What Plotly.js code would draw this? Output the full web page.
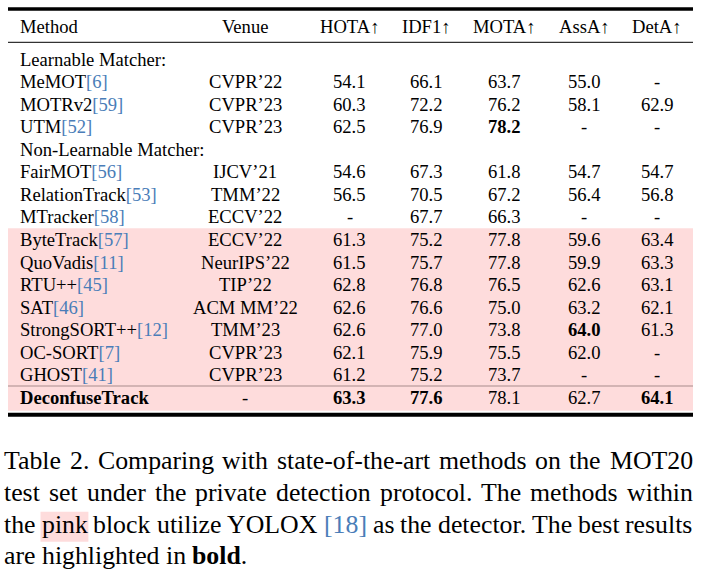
<!DOCTYPE html>
<html><head><meta charset="utf-8">
<script src="https://cdn.plot.ly/plotly-3.0.1.min.js"></script>
<style>html,body{margin:0;padding:0;background:#fff;}#chart{width:705px;height:575px;}</style>
</head><body><div id="chart"></div>
<script>
// ---- data ----
const headers = ["Method", "Venue", "HOTA↑", "IDF1↑", "MOTA↑", "AssA↑", "DetA↑"];
const groupLabels = ["Learnable Matcher:", "Non-Learnable Matcher:"];
const groupStart = [0, 3];           // method index where each group begins
const methods = ["MeMOT", "MOTRv2", "UTM", "FairMOT", "RelationTrack", "MTracker",
  "ByteTrack", "QuoVadis", "RTU++", "SAT", "StrongSORT++", "OC-SORT", "GHOST", "DeconfuseTrack"];
const refs = ["6", "59", "52", "56", "53", "58", "57", "11", "45", "46", "12", "7", "41", ""];
const venues = ["CVPR’22", "CVPR’23", "CVPR’23", "IJCV’21", "TMM’22", "ECCV’22",
  "ECCV’22", "NeurIPS’22", "TIP’22", "ACM MM’22", "TMM’23", "CVPR’23", "CVPR’23", "-"];
const hota = [54.1, 60.3, 62.5, 54.6, 56.5, null, 61.3, 61.5, 62.8, 62.6, 62.6, 62.1, 61.2, 63.3];
const idf1 = [66.1, 72.2, 76.9, 67.3, 70.5, 67.7, 75.2, 75.7, 76.8, 76.6, 77.0, 75.9, 75.2, 77.6];
const mota = [63.7, 76.2, 78.2, 61.8, 67.2, 66.3, 77.8, 77.8, 76.5, 75.0, 73.8, 75.5, 73.7, 78.1];
const assa = [55.0, 58.1, null, 54.7, 56.4, null, 59.6, 59.9, 62.6, 63.2, 64.0, 62.0, null, 62.7];
const deta = [null, 62.9, null, 54.7, 56.8, null, 63.4, 63.3, 63.1, 62.1, 61.3, null, null, 64.1];
const pinkFrom = 6;                  // first method in the pink (YOLOX) block
const oursIndex = 13;                // proposed method (bold name)
const captionLines = [
  "Table 2. Comparing with state-of-the-art methods on the MOT20",
  "test set under the private detection protocol. The methods within",
  "the pink block utilize YOLOX [18] as the detector. The best results",
  "are highlighted in bold."
];

// ---- styling / layout ----
const FONT = "Liberation Serif";
const FS = 18.6, CFS = 25.8;
const BLUE = "#4a7db8", PINK = "#fedcdc";
const colX = [20, 245, 349.5, 426, 504.5, 584, 657];
const metricCols = [hota, idf1, mota, assa, deta];
const L = 8, R = 693;

function rowY(slot) {
  return 59 + slot * 22.42 + (slot >= 8 ? 1.1 : 0) + (slot >= 15 ? 0.5 : 0);
}
const VOFF = 0.5;

const ann = [];
const shapes = [];
function txt(x, y, text, anchor, size) {
  ann.push({
    x: x, y: y + VOFF, xref: "x", yref: "y", text: text, showarrow: false,
    xanchor: anchor, yanchor: "middle", borderpad: 0, borderwidth: 0,
    font: {family: FONT, size: size, color: "#000"}
  });
}

// slots
const slotOf = [];
let slot = 0;
const groupSlots = [];
methods.forEach((m, i) => {
  const g = groupStart.indexOf(i);
  if (g >= 0) { groupSlots.push(slot); slot++; }
  slotOf.push(slot); slot++;
});

// pink block
shapes.push({type: "rect", xref: "x", yref: "y", x0: L, x1: R,
  y0: (rowY(slotOf[pinkFrom - 1]) + rowY(slotOf[pinkFrom])) / 2 + 0.6,
  y1: 410.7, fillcolor: PINK, line: {width: 0}, layer: "below"});
// rules
shapes.push({type: "line", xref: "x", yref: "y", x0: L, x1: R, y0: 9, y1: 9, line: {color: "#000", width: 3.4}});
shapes.push({type: "line", xref: "x", yref: "y", x0: L, x1: R, y0: 42.3, y1: 42.3, line: {color: "#000", width: 1}});
shapes.push({type: "line", xref: "x", yref: "y", x0: L, x1: R, y0: 386, y1: 386, line: {color: "#a88c8c", width: 1}});
shapes.push({type: "line", xref: "x", yref: "y", x0: L, x1: R, y0: 414.7, y1: 414.7, line: {color: "#000", width: 4}});

// header
headers.forEach((h, c) => txt(colX[c], 26, h, c === 0 ? "left" : "center", FS));
// group labels
groupLabels.forEach((g, k) => txt(colX[0], rowY(groupSlots[k]), g, "left", FS));

// best per metric
const best = metricCols.map(col => Math.max(...col.filter(v => v !== null)));

methods.forEach((m, i) => {
  const y = rowY(slotOf[i]);
  let name = m;
  if (i === oursIndex) name = "<b>" + m + "</b>";
  if (refs[i]) name += "<span style='color:" + BLUE + "'>[" + refs[i] + "]</span>";
  txt(colX[0], y, name, "left", FS);
  txt(colX[1], y, venues[i], "center", FS);
  metricCols.forEach((col, k) => {
    const v = col[i];
    let s = v === null ? "-" : v.toFixed(1);
    if (v !== null && v === best[k]) s = "<b>" + s + "</b>";
    txt(colX[k + 2], y, s, "center", FS);
  });
});

// caption, justified word by word
const cv = document.createElement("canvas").getContext("2d");
function wWidth(w, bold) {
  cv.font = (bold ? "bold " : "") + CFS + "px '" + FONT + "'";
  return cv.measureText(w).width;
}
const capY = [460.3, 492.0, 523.7, 555.4];
const CL = 4, CR = 692.7;
captionLines.forEach((line, li) => {
  const words = line.split(" ");
  const info = words.map(w => {
    let bold = false, core = w, tail = "";
    if (w === "bold.") { bold = true; core = "bold"; tail = "."; }
    return {bold, core, tail, width: wWidth(core, bold) + (tail ? wWidth(tail, false) : 0)};
  });
  const total = info.reduce((a, b) => a + b.width, 0);
  const last = li === captionLines.length - 1;
  const gap = last ? wWidth(" ", false) : (CR - CL - total) / (words.length - 1);
  let x = CL;
  info.forEach(o => {
    let t = o.core;
    if (o.bold) t = "<b>" + o.core + "</b>" + o.tail;
    if (o.core === "[18]") t = "<span style='color:" + BLUE + "'>[18]</span>";
    if (o.core === "pink") {
      shapes.push({type: "rect", xref: "x", yref: "y", x0: x - 1, x1: x + o.width + 1,
        y0: 511.7, y1: 541.7, fillcolor: PINK, line: {width: 0}, layer: "below"});
    }
    txt(x, capY[li], t, "left", CFS);
    x += o.width + gap;
  });
});

const layout = {
  width: 705, height: 575, margin: {l: 0, r: 0, t: 0, b: 0},
  paper_bgcolor: "#fff", plot_bgcolor: "#fff", showlegend: false,
  xaxis: {range: [0, 705], visible: false, fixedrange: true},
  yaxis: {range: [575, 0], visible: false, fixedrange: true},
  annotations: ann, shapes: shapes
};
Plotly.newPlot("chart", [], layout, {staticPlot: true, displayModeBar: false});
</script>
</body></html>
